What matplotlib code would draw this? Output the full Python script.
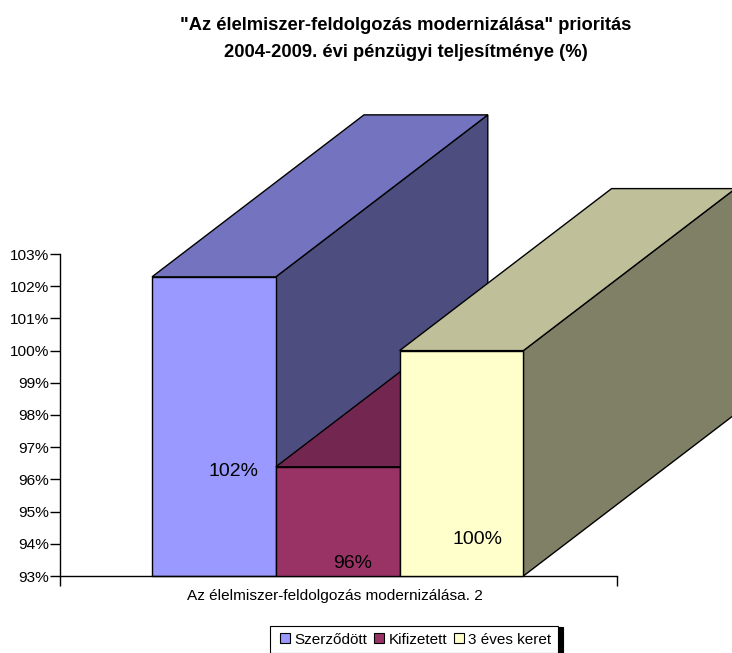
import matplotlib
matplotlib.use('Agg')
import matplotlib.pyplot as plt
from matplotlib.patches import Polygon, Rectangle
from matplotlib.lines import Line2D

plt.rcParams['font.family'] = ['Liberation Sans', 'DejaVu Sans']

series = ['Szerződött', 'Kifizetett', '3 éves keret']
values = [102.29, 96.39, 100.0]
value_labels = ['102%', '96%', '100%']
front_colors = ['#9999FF', '#993366', '#FFFFCC']
top_colors = ['#7373BF', '#732650', '#BFBF99']
side_colors = ['#4D4D80', '#4D1A33', '#808066']
category = 'Az élelmiszer-feldolgozás modernizálása. 2'
yticks = list(range(93, 104))
ytick_labels = [f'{t}%' for t in yticks]
title = '"Az élelmiszer-feldolgozás modernizálása" prioritás\n2004-2009. évi pénzügyi teljesítménye (%)'

W, H = 732, 653
fig = plt.figure(figsize=(W / 100, H / 100), dpi=100)
ax = fig.add_axes([60 / W, 1 - 576 / H, 557 / W, 322 / H])
ax.set_xlim(0, 557)
ax.set_ylim(93, 103)

# 3d look: depth of the bars in axes units
dx = 212
dy = 162 / 32.2
start = 92
width = 123.8

for i, v in enumerate(values):
    x0 = start + i * width
    x1 = x0 + width
    side = [(x1, 93), (x1 + dx, 93 + dy), (x1 + dx, v + dy), (x1, v)]
    top = [(x0, v), (x1, v), (x1 + dx, v + dy), (x0 + dx, v + dy)]
    for pts, c in ((side, side_colors[i]), (top, top_colors[i])):
        ax.add_patch(Polygon(pts, closed=True, fc=c, ec='black', lw=1, clip_on=False, zorder=2 + i))
    ax.add_patch(Rectangle((x0, 93), width, v - 93, fc=front_colors[i], ec='black', lw=1, clip_on=False, zorder=2 + i))

label_x = [174, 293, 418]
label_y = [96.25, 93.39, 94.14]
for lx, ly, t in zip(label_x, label_y, value_labels):
    ax.text(lx, ly, t, ha='center', va='center', fontsize=14, color='black', zorder=10)

for s in ('top', 'right'):
    ax.spines[s].set_visible(False)
ax.spines['left'].set_linewidth(1)
ax.spines['bottom'].set_linewidth(1)
ax.spines['left'].set_bounds(93, 103)
ax.set_yticks(yticks, labels=ytick_labels, fontsize=11.1)
ax.set_xticks([0, 557], labels=['', ''])
ax.tick_params(axis='y', length=7, width=1, pad=1)
ax.tick_params(axis='x', length=7, width=1)
ax.text(275, -0.063, category, transform=ax.get_xaxis_transform(), ha='center', va='center', fontsize=11.1)

fig.text(406 / W, 1 - 39 / H, title, ha='center', va='center', fontsize=13.2, fontweight='bold', linespacing=1.7)

handles = [Line2D([], [], ls='none', marker='s', ms=7, mfc=c, mec='black', mew=0.8) for c in front_colors]
leg = fig.legend(handles, series, loc='center', bbox_to_anchor=(414 / W, 1 - 639.5 / H), ncol=3, frameon=True,
                 fancybox=False, edgecolor='black', framealpha=1, fontsize=11, handletextpad=0.05,
                 columnspacing=0.25, borderpad=0.45, handlelength=1.1, shadow={'color': 'black', 'alpha': 1, 'ox': 3, 'oy': -1})
leg.get_frame().set_linewidth(0.8)

fig.savefig('out.png', dpi=100)
